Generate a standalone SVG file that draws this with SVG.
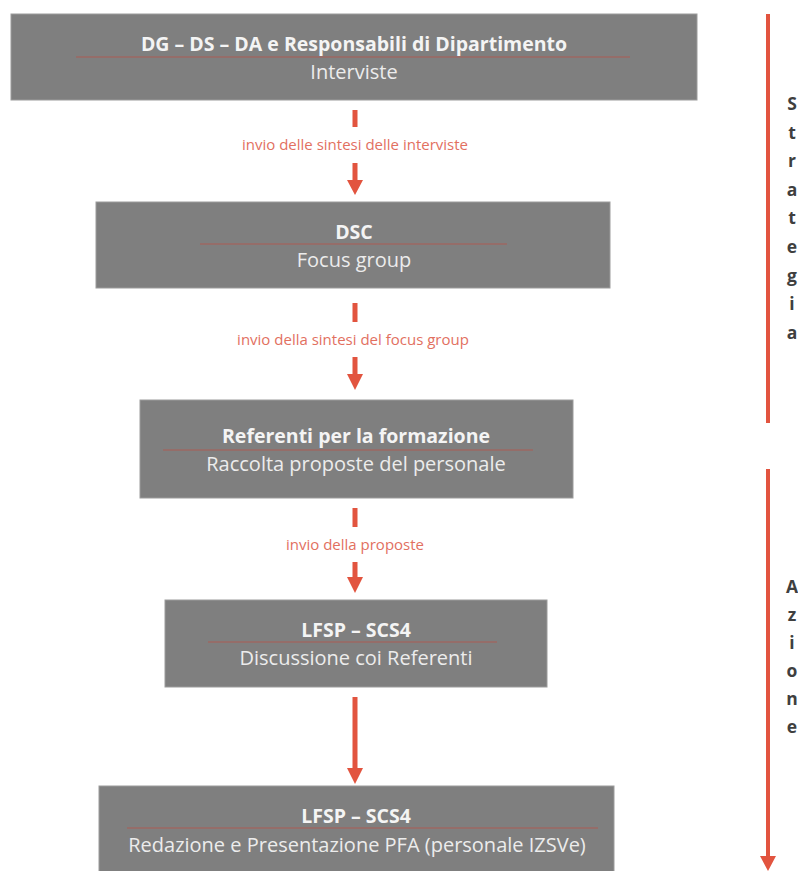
<svg xmlns="http://www.w3.org/2000/svg" width="798" height="871" viewBox="0 0 798 871">
<style>
.box{fill:#7f7f7f;stroke:#9c9c9c;stroke-width:1}
.title{font-family:"Open Sans","Liberation Sans",sans-serif;font-weight:bold;font-size:19.5px;fill:#f4f4f4;text-anchor:middle}
.sub{font-family:"Open Sans","Liberation Sans",sans-serif;font-size:20px;fill:#ececec;text-anchor:middle}
.rule{stroke:#b0584e;stroke-width:1.5;stroke-opacity:0.6}
.lbl{font-family:"Open Sans","Liberation Sans",sans-serif;font-size:15px;fill:#e2705f;text-anchor:middle}
.red{fill:#e2543f}
.side{font-family:"Open Sans","Liberation Sans",sans-serif;font-weight:bold;font-size:17.5px;fill:#3f3f3f;text-anchor:middle}
</style>
<rect width="798" height="871" fill="#ffffff"/>
<g id="node1">
<rect class="box" x="11" y="14" width="686" height="86"/>
<line class="rule" x1="76" y1="57" x2="630" y2="57"/>
<text class="title" x="354" y="51">DG – DS – DA e Responsabili di Dipartimento</text>
<text class="sub" x="354" y="79">Interviste</text>
</g>
<g id="node2">
<rect class="box" x="96" y="202" width="514" height="86"/>
<line class="rule" x1="200" y1="244" x2="507" y2="244"/>
<text class="title" x="354" y="239">DSC</text>
<text class="sub" x="354" y="267">Focus group</text>
</g>
<g id="node3">
<rect class="box" x="140" y="400" width="433" height="98"/>
<line class="rule" x1="163" y1="450" x2="533" y2="450"/>
<text class="title" x="356" y="443">Referenti per la formazione</text>
<text class="sub" x="356" y="471">Raccolta proposte del personale</text>
</g>
<g id="node4">
<rect class="box" x="165" y="600" width="382" height="87"/>
<line class="rule" x1="208" y1="642" x2="497" y2="642"/>
<text class="title" x="356" y="637">LFSP – SCS4</text>
<text class="sub" x="356" y="665">Discussione coi Referenti</text>
</g>
<g id="node5">
<rect class="box" x="99" y="786" width="515" height="90"/>
<line class="rule" x1="127" y1="828" x2="598" y2="828"/>
<text class="title" x="356" y="823">LFSP – SCS4</text>
<text class="sub" x="357" y="852">Redazione e Presentazione PFA (personale IZSVe)</text>
</g>
<g id="connectors">
<rect class="red" x="352.5" y="110" width="5" height="17"/>
<text class="lbl" x="355" y="150">invio delle sintesi delle interviste</text>
<rect class="red" x="352.5" y="163" width="5" height="18"/>
<polygon class="red" points="347,180 363,180 355,195"/>
<rect class="red" x="352.5" y="303" width="5" height="19"/>
<text class="lbl" x="353" y="345">invio della sintesi del focus group</text>
<rect class="red" x="352.5" y="357" width="5" height="18"/>
<polygon class="red" points="347,374 363,374 355,390"/>
<rect class="red" x="352.5" y="508" width="5" height="19"/>
<text class="lbl" x="355" y="550">invio della proposte</text>
<rect class="red" x="352.5" y="562" width="5" height="16"/>
<polygon class="red" points="347,577 363,577 355,593"/>
<rect class="red" x="352.5" y="697" width="5" height="72"/>
<polygon class="red" points="347,768 363,768 355,784"/>
</g>
<g id="phases">
<rect class="red" x="766" y="14" width="4" height="409"/>
<rect class="red" x="766" y="469" width="4" height="389"/>
<polygon class="red" points="760,856 776,856 768,871"/>
<g id="strategia">
<text class="side" x="792" y="110">S</text>
<text class="side" x="792" y="138.6">t</text>
<text class="side" x="792" y="167.2">r</text>
<text class="side" x="792" y="195.8">a</text>
<text class="side" x="792" y="224.4">t</text>
<text class="side" x="792" y="253">e</text>
<text class="side" x="792" y="281.6">g</text>
<text class="side" x="792" y="310.2">i</text>
<text class="side" x="792" y="338.8">a</text>
</g>
<g id="azione">
<text class="side" x="792" y="593">A</text>
<text class="side" x="792" y="621">z</text>
<text class="side" x="792" y="649">i</text>
<text class="side" x="792" y="677">o</text>
<text class="side" x="792" y="705">n</text>
<text class="side" x="792" y="733">e</text>
</g>
</g>
</svg>
